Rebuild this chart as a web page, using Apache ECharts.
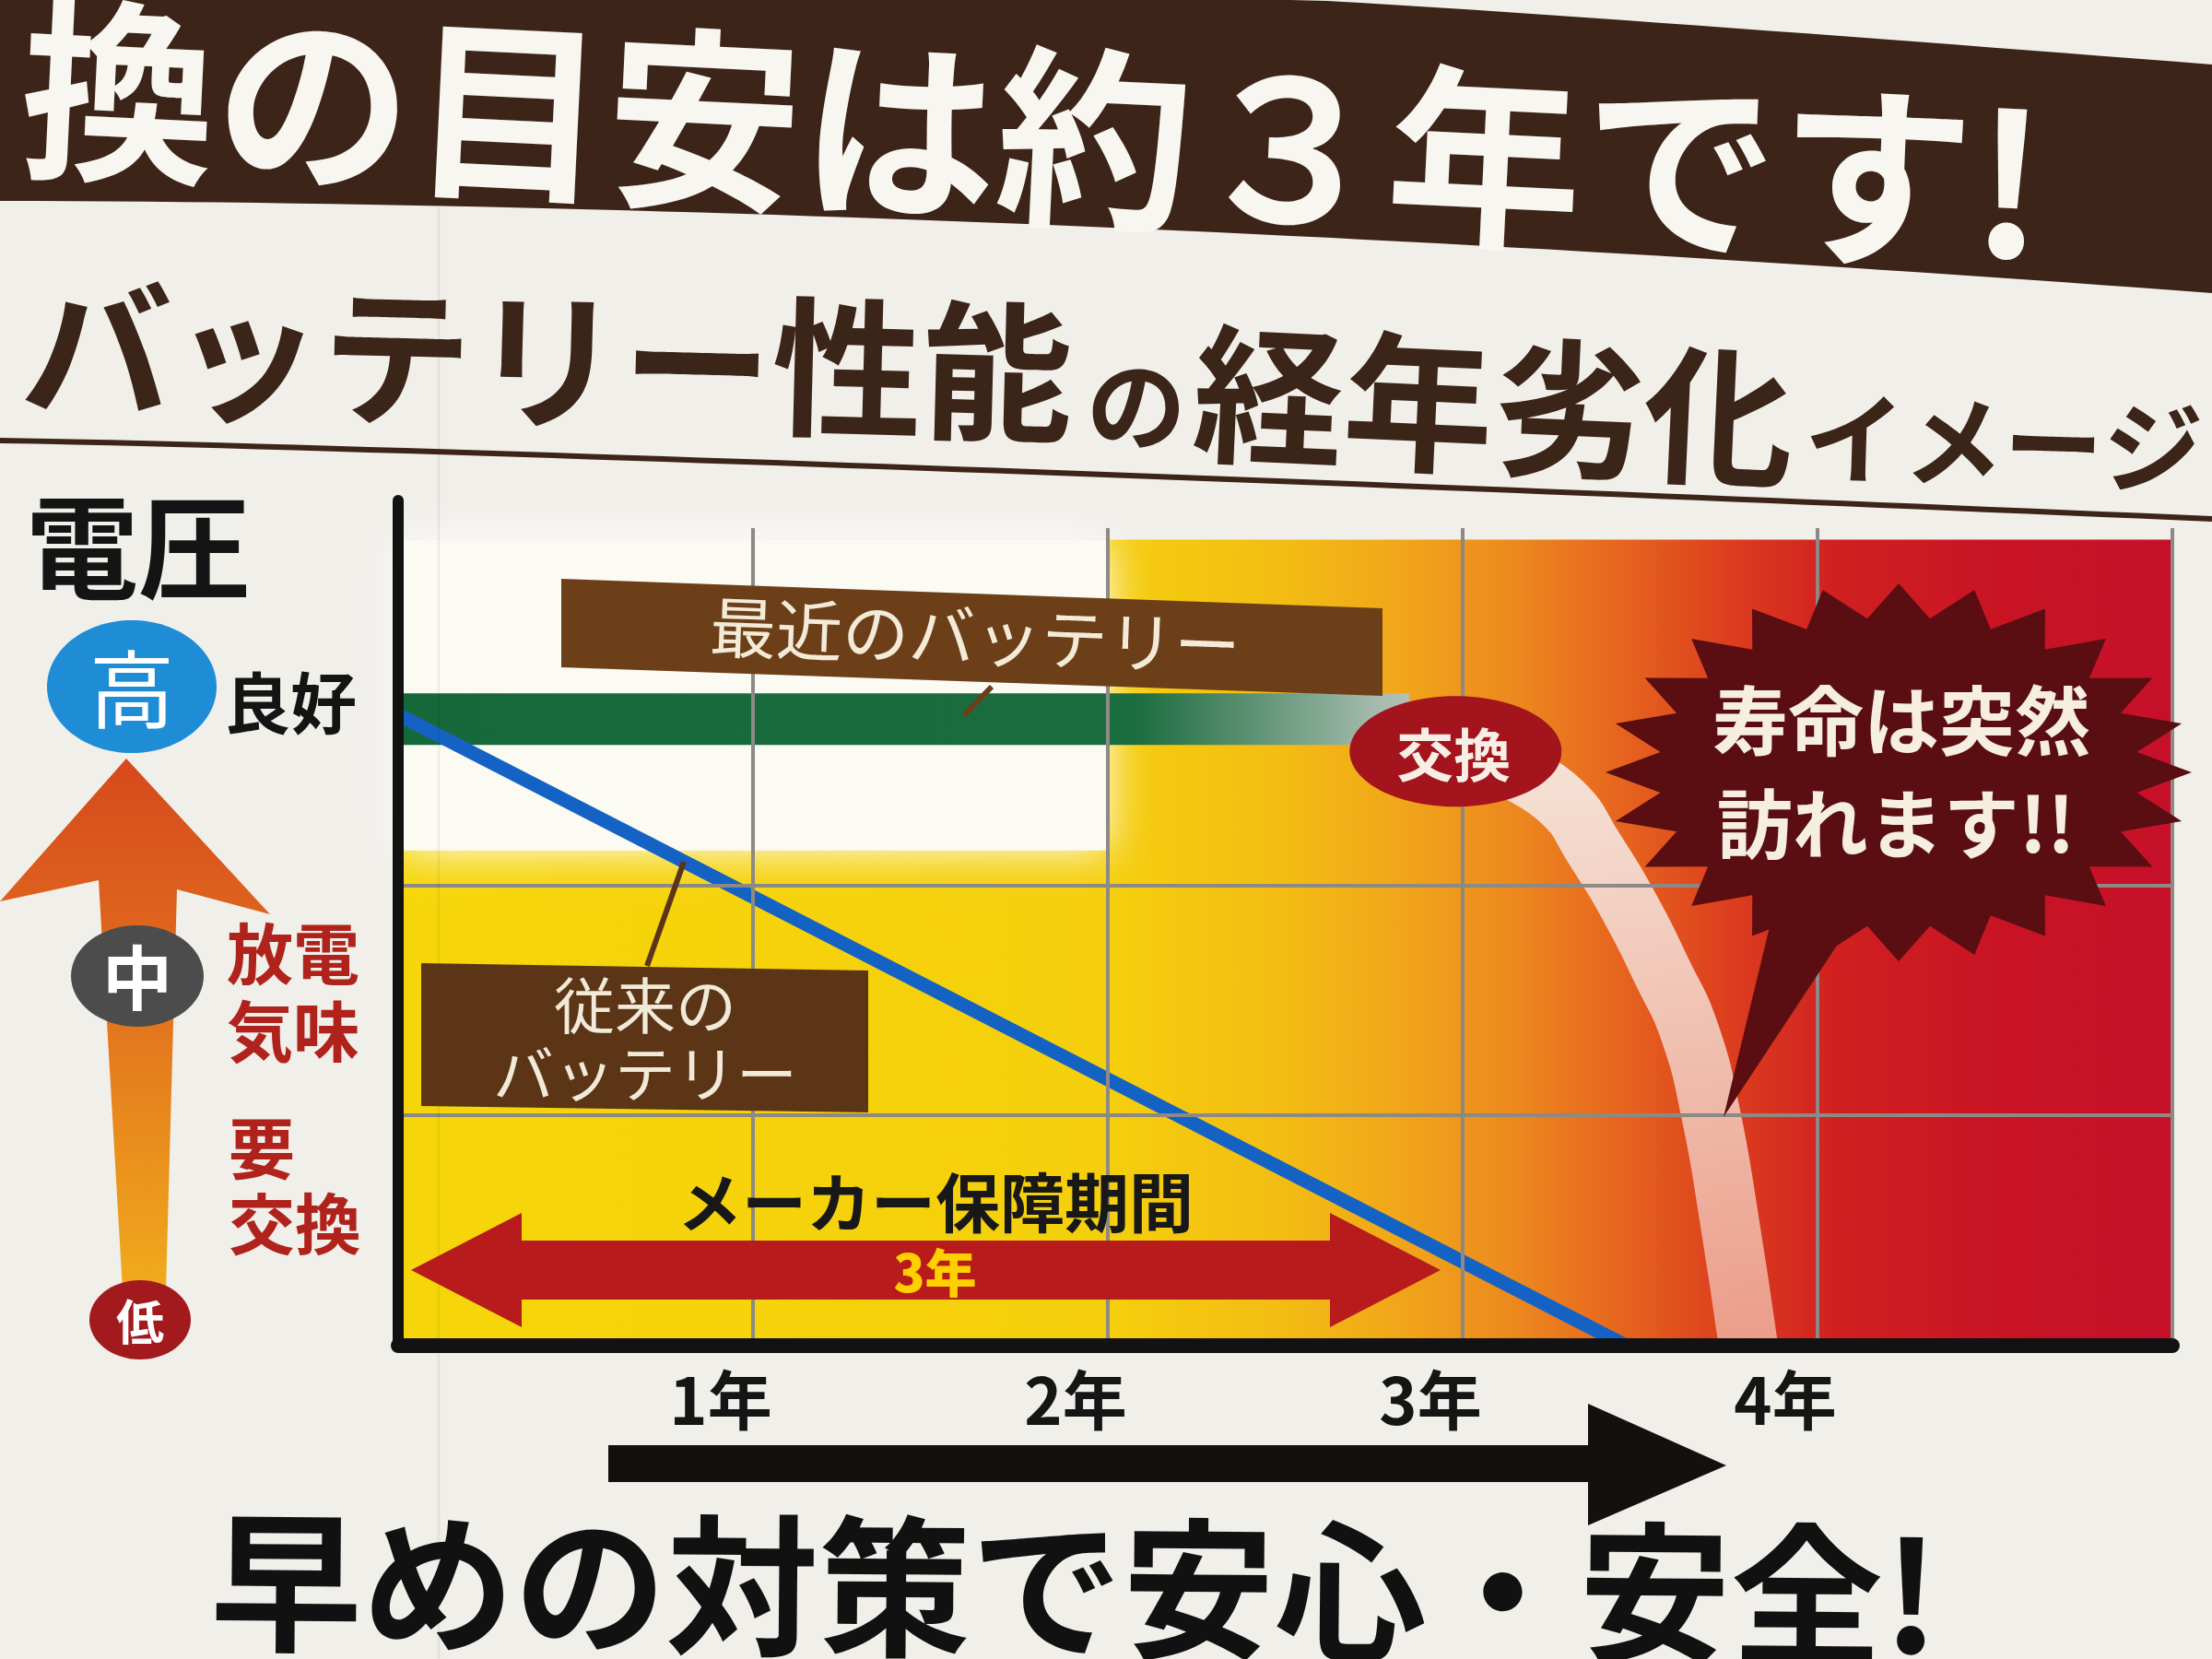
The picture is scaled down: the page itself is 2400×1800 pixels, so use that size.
<!DOCTYPE html>
<html><head><meta charset="utf-8">
<script src="https://cdn.jsdelivr.net/npm/echarts/dist/echarts.min.js"></script>
<style>html,body{margin:0;padding:0;background:#f1efea}#c{width:2400px;height:1800px}</style>
</head><body><div id="c"></div>
<script>
const FONT = '"Noto Sans CJK JP", "Noto Sans CJK SC", sans-serif';

// ---- data ----
const xTickLabels = ['', '1年', '2年', '3年', '4年', ''];
const yearsMin = 0, yearsMax = 5;
const voltageMax = 3.67;
const gridLevels = [1, 2];
const gridYears = [1, 2, 3, 4, 5];
// 最近のバッテリー
const recentYears = [0, 2.85];
const recentVoltage = [2.72, 2.72];
// 従来のバッテリー
const conventionalYears = [0, 3.46];
const conventionalVoltage = [2.74, 0];
// 交換後の急激な低下（寿命は突然）
const dropYears = [3.14, 3.28, 3.37, 3.475, 3.56, 3.64, 3.70, 3.75, 3.805];
const dropVoltage = [2.50, 2.36, 2.16, 1.89, 1.63, 1.36, 1.00, 0.56, 0];
const warrantyYears = [0, 3];
const replacePoint = [2.98, 2.58];

const zip = (xs, ys) => xs.map((x, i) => [x, ys[i]]);
const chart = echarts.init(document.getElementById('c'), null, {renderer: 'canvas', width: 2400, height: 1800});

const bgGrad = new echarts.graphic.LinearGradient(0, 0, 1, 0, [
  {offset: 0, color: '#f6d60a'}, {offset: 0.40, color: '#f5cf0c'}, {offset: 0.50, color: '#f3bc14'},
  {offset: 0.57, color: '#f0a41a'}, {offset: 0.63, color: '#ec881e'}, {offset: 0.69, color: '#e6641e'},
  {offset: 0.75, color: '#dc3e1e'}, {offset: 0.81, color: '#d02020'}, {offset: 0.9, color: '#c91424'},
  {offset: 1, color: '#c6102a'}]);

const option = {
  backgroundColor: '#f1efea',
  animation: false,
  grid: {left: 432, right: 43, top: 543, bottom: 340, outerBoundsMode: 'none'},
  xAxis: {
    type: 'value', min: yearsMin, max: yearsMax, interval: 1, z: 10,
    axisLine: {show: true, onZero: false, lineStyle: {color: '#121212', width: 16}},
    axisTick: {show: false}, splitLine: {show: false},
    axisLabel: {formatter: v => xTickLabels[Math.round(v)] || '', fontSize: 70, fontWeight: 'bold',
      fontFamily: FONT, color: '#151515', margin: 24, padding: [0, 70, 0, 0]}
  },
  yAxis: {
    type: 'value', min: 0, max: voltageMax, z: 10,
    axisLine: {show: true, onZero: false, lineStyle: {color: '#121212', width: 12}},
    axisTick: {show: false}, axisLabel: {show: false}, splitLine: {show: false}
  },
  series: [
    {type: 'line', data: [], silent: true, z: 1,
      markArea: {silent: true, data: [
        [{coord: [0, 0], itemStyle: {color: bgGrad}}, {coord: [5, 3.5]}],
        [{coord: [0, 2.15], itemStyle: {color: '#fbfaf3', shadowBlur: 45, shadowColor: '#ffffff'}}, {coord: [2.0, 3.5]}]
      ]}},
    {type: 'line', data: [], silent: true, z: 2,
      markLine: {silent: true, symbol: ['none', 'none'], label: {show: false},
        lineStyle: {color: '#8d8985', width: 4, type: 'solid'},
        data: [
          ...gridLevels.map(v => [{coord: [0, v]}, {coord: [5, v]}]),
          ...gridYears.map(v => [{coord: [v, 0]}, {coord: [v, 3.55]}])
        ]}},
    {name: '最近のバッテリー', type: 'line', data: zip(recentYears, recentVoltage), symbol: 'none', z: 3,
      lineStyle: {width: 56, cap: 'butt', color: new echarts.graphic.LinearGradient(0, 0, 1, 0, [
        {offset: 0, color: '#15683a'}, {offset: 0.72, color: '#1c6d3f'}, {offset: 0.95, color: '#a8bcaf'}, {offset: 1, color: '#b6c6bb'}])}},
    {name: '従来のバッテリー', type: 'line', data: zip(conventionalYears, conventionalVoltage), symbol: 'none', z: 4,
      lineStyle: {color: '#1463c4', width: 15}},
    {name: '寿命', type: 'line', data: zip(dropYears, dropVoltage), symbol: 'none', smooth: 0.5, z: 4,
      lineStyle: {width: 64, cap: 'butt', color: new echarts.graphic.LinearGradient(0, 0, 0, 1, [
        {offset: 0, color: 'rgba(246,232,224,0.96)'}, {offset: 1, color: 'rgba(236,162,142,0.92)'}])}}
  ]
};
chart.setOption(option);

function txt(text, x, y, size, color, extra) {
  const o = Object.assign({rotation: 0, align: 'left', valign: 'middle', weight: 'bold', lh: null}, extra || {});
  const style = {text: text, x: 0, y: 0, fontSize: size, fontWeight: o.weight, fontFamily: FONT, fill: color,
    align: o.align, textAlign: o.align, verticalAlign: o.valign, textVerticalAlign: o.valign};
  if (o.lh) style.lineHeight = o.lh;
  return {type: 'text', x: x, y: y, rotation: o.rotation, z: 60, silent: true, style: style};
}

const g = [];
const W = 2400;
// title band
const band = [];
for (let x = 0; x <= W; x += 40) band.push([x, x < 1420 ? 0 : 70 * Math.pow((x - 1420) / 980, 1.1)]);
for (let x = W; x >= 0; x -= 40) band.push([x, 218 + 100 * Math.pow(x / W, 1.8)]);
g.push({type: 'polygon', shape: {points: band}, style: {fill: '#3c2418'}, z: 50, silent: true});
g.push(txt('換の目安は約３年です!', 23, 95, 212, '#f8f6f1', {rotation: -0.048}));

// subtitle
g.push(txt('バッテリー性能', 23, 377, 163, '#3b2418', {rotation: -0.025}));
g.push(txt('の', 1179, 438, 108, '#3b2418', {rotation: -0.03}));
g.push(txt('経年劣化', 1295, 426, 163, '#3b2418', {rotation: -0.045}));
g.push(txt('イメージ', 1958, 474, 108, '#3b2418', {rotation: -0.03}));
const sub = [];
for (let x = 0; x <= W; x += 40) sub.push([x, 478 + 85 * Math.pow(x / W, 1.2)]);
g.push({type: 'polyline', shape: {points: sub}, style: {stroke: '#3b2418', lineWidth: 6, fill: null}, z: 50, silent: true});
// seam
g.push({type: 'line', shape: {x1: 476, y1: 225, x2: 476, y2: 1800}, style: {stroke: 'rgba(0,0,0,0.05)', lineWidth: 3}, z: 5, silent: true});

// left voltage scale
g.push(txt('電圧', 28, 594, 122, '#141414'));
g.push({type: 'polygon', z: 55, silent: true,
  shape: {points: [[137, 823], [293, 992], [192, 965], [180, 1400], [133, 1400], [107, 955], [0, 978]]},
  style: {fill: new echarts.graphic.LinearGradient(0, 0, 0, 1, [
    {offset: 0, color: '#d6491c'}, {offset: 0.45, color: '#e2701e'}, {offset: 1, color: '#f0ab1c'}])}});
g.push({type: 'ellipse', shape: {cx: 143, cy: 745, rx: 92, ry: 72}, style: {fill: '#1e8dd6'}, z: 56, silent: true});
g.push(txt('高', 143, 748, 92, '#ffffff', {align: 'center', weight: 'normal'}));
g.push(txt('良好', 243, 763, 72, '#141414'));
g.push({type: 'ellipse', shape: {cx: 149, cy: 1059, rx: 72, ry: 55}, style: {fill: '#4c4c4c'}, z: 56, silent: true});
g.push(txt('中', 149, 1061, 76, '#ffffff', {align: 'center'}));
g.push(txt('放電\n気味', 246, 1077, 72, '#b0231c', {lh: 84}));
g.push(txt('要\n交換', 248, 1287, 72, '#b0231c', {lh: 82}));
g.push({type: 'ellipse', shape: {cx: 152, cy: 1432, rx: 55, ry: 43}, style: {fill: '#a31a1e'}, z: 56, silent: true});
g.push(txt('低', 152, 1434, 52, '#ffffff', {align: 'center'}));

// y-axis cap extension
g.push({type: 'line', shape: {x1: 432, y1: 543, x2: 432, y2: 560}, style: {stroke: '#121212', lineWidth: 12}, z: 60, silent: true});

// label: 最近のバッテリー
g.push({type: 'polygon', shape: {points: [[609, 628], [1500, 660], [1500, 755], [609, 724]]}, style: {fill: '#6c3f19'}, z: 55, silent: true});
g.push(txt('最近のバッテリー', 1058, 690, 72, '#f3ebd8', {align: 'center', rotation: -0.035, weight: 'normal'}));
g.push({type: 'line', shape: {x1: 1076, y1: 745, x2: 1046, y2: 776}, style: {stroke: '#6c3f19', lineWidth: 6}, z: 55, silent: true});

// label: 従来のバッテリー
g.push({type: 'polygon', shape: {points: [[457, 1045], [942, 1053], [942, 1207], [457, 1200]]}, style: {fill: '#5c3517'}, z: 55, silent: true});
g.push(txt('従来の\nバッテリー', 700, 1128, 66, '#f2ead8', {align: 'center', lh: 74, weight: 'normal'}));
g.push({type: 'line', shape: {x1: 742, y1: 935, x2: 702, y2: 1048}, style: {stroke: '#5c3517', lineWidth: 6}, z: 55, silent: true});

// warranty arrow
const pL = chart.convertToPixel({gridIndex: 0}, [warrantyYears[0], 0]);
const pR = chart.convertToPixel({gridIndex: 0}, [warrantyYears[1], 0]);
const xl = pL[0] + 14, xr = pR[0] - 24, cy = 1378, hl = 120, hh = 62, sh = 32;
g.push({type: 'polygon', z: 55, silent: true, style: {fill: '#b71b1b'},
  shape: {points: [[xl, cy], [xl + hl, cy - hh], [xl + hl, cy - sh], [xr - hl, cy - sh], [xr - hl, cy - hh], [xr, cy],
    [xr - hl, cy + hh], [xr - hl, cy + sh], [xl + hl, cy + sh], [xl + hl, cy + hh]]}});
g.push(txt('3年', (xl + xr) / 2 + 10, cy + 3, 56, '#ffd000', {align: 'center', weight: 900}));
g.push(txt('メーカー保障期間', 1015, 1305, 70, '#181818', {align: 'center'}));

// replace badge
const pB = chart.convertToPixel({gridIndex: 0}, replacePoint);
g.push({type: 'ellipse', shape: {cx: pB[0], cy: pB[1], rx: 115, ry: 60}, style: {fill: '#a3141c'}, z: 56, silent: true});
g.push(txt('交換', pB[0] - 2, pB[1] + 4, 62, '#f7efe6', {align: 'center'}));

// starburst
const scx = 2060, scy = 838, srx = 318, sry = 205, N = 24, star = [];
for (let i = 0; i < 2 * N; i++) {
  const a = -Math.PI / 2 + i * Math.PI / N, r = i % 2 === 0 ? 1 : 0.82;
  star.push([scx + srx * r * Math.cos(a), scy + sry * r * Math.sin(a)]);
}
g.push({type: 'polygon', shape: {points: [[1925, 985], [2010, 1000], [1870, 1212]]}, style: {fill: '#5a0e12'}, z: 55, silent: true});
g.push({type: 'polygon', shape: {points: star}, style: {fill: '#5a0e12'}, z: 55, silent: true});
g.push(txt('寿命は突然', 2063, 782, 82, '#f6eee0', {align: 'center'}));
g.push(txt('訪れます!!', 2057, 894, 82, '#f6eee0', {align: 'center'}));

// time arrow
g.push({type: 'polygon', z: 55, silent: true, style: {fill: '#141010'},
  shape: {points: [[660, 1568], [1723, 1568], [1723, 1523], [1873, 1590], [1723, 1655], [1723, 1608], [660, 1608]]}});

// slogan
g.push(txt('早めの対策で安心・安全!', 228, 1716, 165, '#111111', {rotation: -0.008}));

chart.setOption({graphic: {elements: g}});
</script>
</body></html>
